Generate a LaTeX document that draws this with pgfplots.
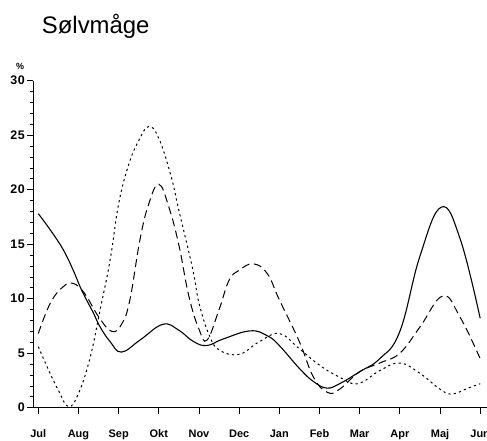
\documentclass[border=0pt]{standalone}
\usepackage{fontspec}
\setmainfont{Liberation Sans}
\newfontfamily\ytickfont[LetterSpace=5]{Liberation Sans}
\usepackage{pgfplots}
\pgfplotsset{compat=1.18}
\begin{document}
\begin{tikzpicture}[x=1bp,y=1bp]
\path[use as bounding box, clip] (0,0) rectangle (487,441);
\node[anchor=base west, inner sep=0, font=\fontsize{24}{28}\selectfont] at (41.7,407.7) {Sølvmåge};
\node[font=\bfseries\fontsize{9}{10}\selectfont, inner sep=0] at (20,374.5) {\%};
\begin{axis}[
  at={(33bp,33.3bp)}, anchor=south west,
  scale only axis, width=454bp, height=327bp,
  xmin=-0.132, xmax=11.17, ymin=0, ymax=30,
  axis x line*=bottom, axis y line*=left,
  axis line style={-, line width=0.8bp},
  xtick={0,...,11},
  xticklabels={Jul,Aug,Sep,Okt,Nov,Dec,Jan,Feb,Mar,Apr,Maj,Jun},
  ytick={0,5,...,30}, minor y tick num=4,
  tick align=outside, major tick length=6bp, minor tick length=3bp,
  tick style={black, line width=0.7bp},
  /pgf/number format/assume math mode=true,
  x tick label style={font=\bfseries\fontsize{11}{13}\selectfont, anchor=north,
     inner sep=0pt, text height=8.3bp, text depth=0pt, yshift=-15.3bp},
  y tick label style={font=\ytickfont\bfseries\fontsize{12.5}{14}\selectfont, anchor=east,
     inner sep=0pt, xshift=-2bp},
  clip=false,
]
\addplot[black, line width=1.1bp, smooth, tension=0.7] coordinates {
(0,17.8) (0.3,16.3) (0.62,14.5) (0.87,12.6) (1.04,11.1) (1.2,9.9) (1.37,8.7)
(1.54,7.4) (1.79,6.05) (2.07,5.1) (2.53,6.2) (3.1,7.65) (3.5,7.1) (3.85,6.1)
(4.19,5.7) (4.6,6.3) (5.27,7.05) (5.7,6.6) (6,5.7) (6.5,3.6) (6.85,2.4) (7.18,1.8)
(7.5,2.2) (8,3.3) (8.5,4.5) (9,7.0) (9.5,13.9) (10.03,18.4) (10.5,15.5) (11,8.2)
};
\addplot[black, line width=1.0bp, dash pattern=on 8bp off 4.5bp, smooth, tension=0.7] coordinates {
(0,6.8) (0.3,9.6) (0.62,11.1) (0.87,11.4) (1.15,10.5) (1.5,8.35) (1.83,7.0)
(2.08,7.7) (2.28,9.9) (2.53,15.4) (2.75,18.7) (3,20.5) (3.25,18.4) (3.5,14.9) (3.75,10.2)
(4,7.2) (4.2,6.2) (4.5,9.0) (4.75,11.7) (5,12.6) (5.35,13.2) (5.7,12.3) (6,9.9)
(6.5,6.05) (6.85,2.8) (7.2,1.4) (7.5,1.7) (8,3.3) (8.5,4.1) (9,5.0) (9.5,7.4)
(10.07,10.25) (10.5,8.3) (11,4.5)
};
\addplot[black, line width=1.0bp, dash pattern=on 2.2bp off 3.2bp, smooth, tension=0.7] coordinates {
(0,5.6) (0.25,3.5) (0.5,1.6) (0.75,0.1) (1,1.3) (1.29,4.6) (1.54,9.0) (1.79,13.6)
(2,18.7) (2.25,22.3) (2.5,24.5) (2.75,25.8) (3,24.7) (3.3,21.3) (3.5,18.1) (3.85,12.6)
(4,9.6) (4.25,6.7) (4.5,5.3) (5,4.9) (5.5,6.05) (6,6.8) (6.5,5.4) (7,3.9) (7.5,2.8)
(7.95,2.2) (8.5,3.4) (9,4.1) (9.5,3.15) (10,1.7) (10.3,1.25) (10.7,1.8) (11,2.2)
};
\end{axis}
\end{tikzpicture}
\end{document}
